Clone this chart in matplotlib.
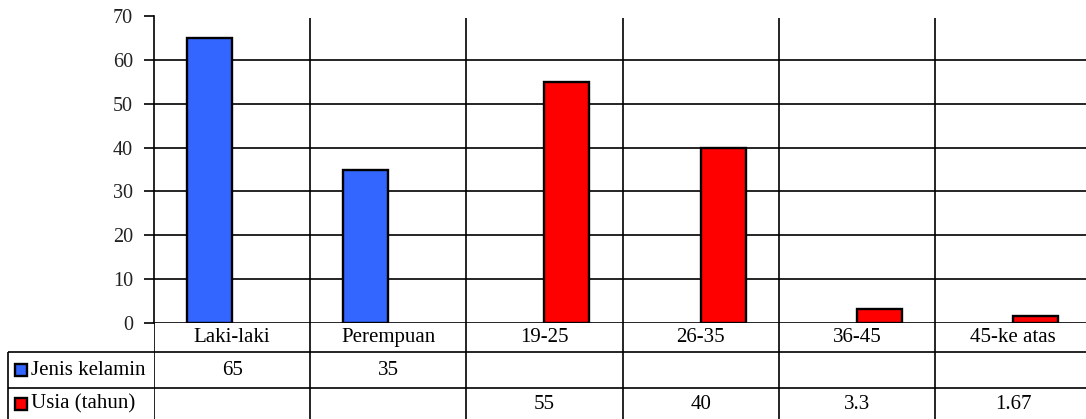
import numpy as np
import matplotlib.pyplot as plt
from matplotlib.patches import Rectangle

# chart data
categories = ['Laki-laki', 'Perempuan', '19-25', '26-35', '36-45', '45-ke atas']
series_names = ['Jenis kelamin', 'Usia (tahun)']
jenis_kelamin = [65, 35, None, None, None, None]
usia = [None, None, 55, 40, 3.3, 1.67]
series_colors = ['#3366FF', '#FF0000']
yticks = [0, 10, 20, 30, 40, 50, 60, 70]

plt.rcParams['font.family'] = ['Liberation Serif', 'DejaVu Serif']

W, H = 1086, 419
fig = plt.figure(figsize=(W / 100, H / 100), dpi=100)

# plot area in pixels (last column runs a little past the right edge)
cw = 156.2
left = 154
right = left + 6 * cw
top, base = 16, 323
ax = fig.add_axes([left / W, 1 - base / H, (right - left) / W, (base - top) / H])

n = len(categories)
x = np.arange(n) + 0.5
bw = 45 / cw

for k, vals in enumerate([jenis_kelamin, usia]):
    offs = -bw / 2 if k == 0 else bw / 2
    for i, v in enumerate(vals):
        if v is None:
            continue
        ax.bar(x[i] + offs, v, width=bw, color=series_colors[k],
               edgecolor='black', linewidth=1.7, zorder=3)

ax.set_xlim(0, n)
ax.set_ylim(0, 70)
ax.set_yticks(yticks)
ax.set_xticks([])
for s in ['top', 'right', 'bottom']:
    ax.spines[s].set_visible(False)
ax.spines['left'].set_linewidth(1.2)
ax.tick_params(axis='y', length=7, width=1.2, pad=8, labelsize=14.5,
               labelcolor='#222222')

# horizontal gridlines (no line at the top)
for t in yticks[:-1]:
    ax.axhline(t, color='black', linewidth=1.2, zorder=1)
# vertical category separators
ax.vlines(np.arange(1, n), 0, 69.5, color='black', linewidth=1.2, zorder=1)

# data table underneath
tax = fig.add_axes([left / W, 0, (right - left) / W, (H - base) / H])
tax.set_xlim(0, n)
tax.set_ylim(H - base, 0)
tax.axis('off')

row_lines = [29, 65]
legend_left = (8 - left) / cw
tax.vlines(np.arange(0, n), 0, H - base, color='black', linewidth=1.2)
tax.vlines(legend_left, row_lines[0], H - base, color='black',
           linewidth=1.2, clip_on=False)
for r in row_lines:
    tax.hlines(r, legend_left, n, color='black', linewidth=1.2, clip_on=False)

for i, c in enumerate(categories):
    tax.text(x[i], 14.5, c, ha='center', va='center', fontsize=15)

row_centers = [47, 81]
for k, vals in enumerate([jenis_kelamin, usia]):
    yc = row_centers[k]
    for i, v in enumerate(vals):
        if v is None:
            continue
        tax.text(x[i], yc, f'{v:g}', ha='center', va='center', fontsize=15)
    tax.add_patch(Rectangle(((15 - left) / cw, yc - 6), 12 / cw, 12,
                            facecolor=series_colors[k], edgecolor='black',
                            linewidth=1.7, clip_on=False))
    tax.text((30.5 - left) / cw, yc, series_names[k], ha='left', va='center',
             fontsize=15, clip_on=False)

fig.savefig('out.png', dpi=100)
